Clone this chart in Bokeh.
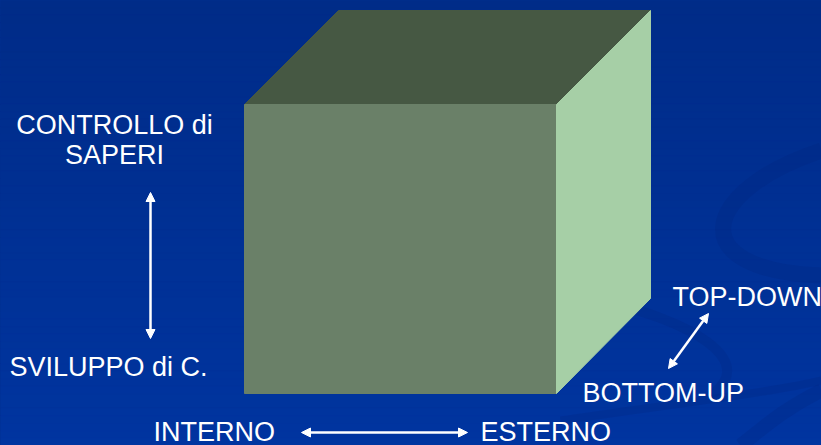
import numpy as np
from bokeh.plotting import figure
from bokeh.models import Range1d, Arrow, NormalHead
from bokeh.core.properties import value
from bokeh.embed import file_html
from bokeh.resources import INLINE

# ---- data (image pixel coordinates of the slide) ----
face_names = ["top", "front", "right"]
face_xs = [[244, 338, 650, 556], [244, 556, 556, 244], [556, 650, 650, 556]]
face_ys = [[104, 10, 10, 104], [104, 104, 393, 393], [104, 10, 298, 393]]
face_colors = ["#465843", "#6a8068", "#a6cfa6"]

labels = ["CONTROLLO di", "SAPERI", "SVILUPPO di C.", "TOP-DOWN", "BOTTOM-UP", "INTERNO", "ESTERNO"]
label_x = [114, 114, 9, 672, 582, 153, 480]
label_y = [124, 154, 366, 296, 392, 431, 431]
label_align = ["center", "center", "left", "left", "left", "left", "left"]

arrow_x0 = [150, 668, 301]
arrow_y0 = [338, 368, 432]
arrow_x1 = [150, 708, 467]
arrow_y1 = [192, 313, 432]

# decorative swirls of the slide background
swirl_x0 = [821, 600, 821, 560]
swirl_y0 = [150, 300, 390, 420]
swirl_cx0 = [700, 690, 780, 700]
swirl_cy0 = [190, 320, 410, 400]
swirl_cx1 = [680, 760, 760, 780]
swirl_cy1 = [270, 360, 430, 390]
swirl_x1 = [821, 710, 740, 821]
swirl_y1 = [275, 395, 445, 380]
swirl_w = [16, 10, 14, 8]

W, H = 821, 445
p = figure(width=W, height=H, x_range=Range1d(0, W), y_range=Range1d(H, 0),
           output_backend="svg", toolbar_location=None, min_border=0)
p.axis.visible = False
p.grid.visible = False
p.outline_line_color = None
p.background_fill_color = "#00318f"
p.border_fill_color = "#00318f"

# vertical gradient background
n = 60
edges = np.linspace(0, H, n + 1)
top = np.array([0x00, 0x2c, 0x88])
bot = np.array([0x00, 0x35, 0xa0])
cols = []
for i in range(n):
    t = i / (n - 1)
    c = (top * (1 - t) + bot * t).astype(int)
    cols.append("#%02x%02x%02x" % tuple(c))
p.quad(left=0, right=W, top=edges[:-1], bottom=edges[1:], fill_color=cols, line_color=cols)

p.bezier(x0=swirl_x0, y0=swirl_y0, x1=swirl_x1, y1=swirl_y1,
         cx0=swirl_cx0, cy0=swirl_cy0, cx1=swirl_cx1, cy1=swirl_cy1,
         line_color="#00247a", line_alpha=0.2, line_width=swirl_w)

p.patches(xs=face_xs, ys=face_ys, fill_color=face_colors, line_color=face_colors, line_width=1)

p.text(x=label_x, y=label_y, text=labels, text_align=label_align, text_baseline="alphabetic",
       text_color="white", text_font=value("Liberation Sans"), text_font_size="27px")

for x0, y0, x1, y1 in zip(arrow_x0, arrow_y0, arrow_x1, arrow_y1):
    p.add_layout(Arrow(
        start=NormalHead(size=9, fill_color="white", line_color="white", line_width=1),
        end=NormalHead(size=9, fill_color="white", line_color="white", line_width=1),
        x_start=x0, y_start=y0, x_end=x1, y_end=y1,
        line_color="white", line_width=2.5))

html = file_html(p, INLINE).replace("</head>", "<style>body{background:#00318f;}</style></head>")
open("out.html", "w").write(html)
